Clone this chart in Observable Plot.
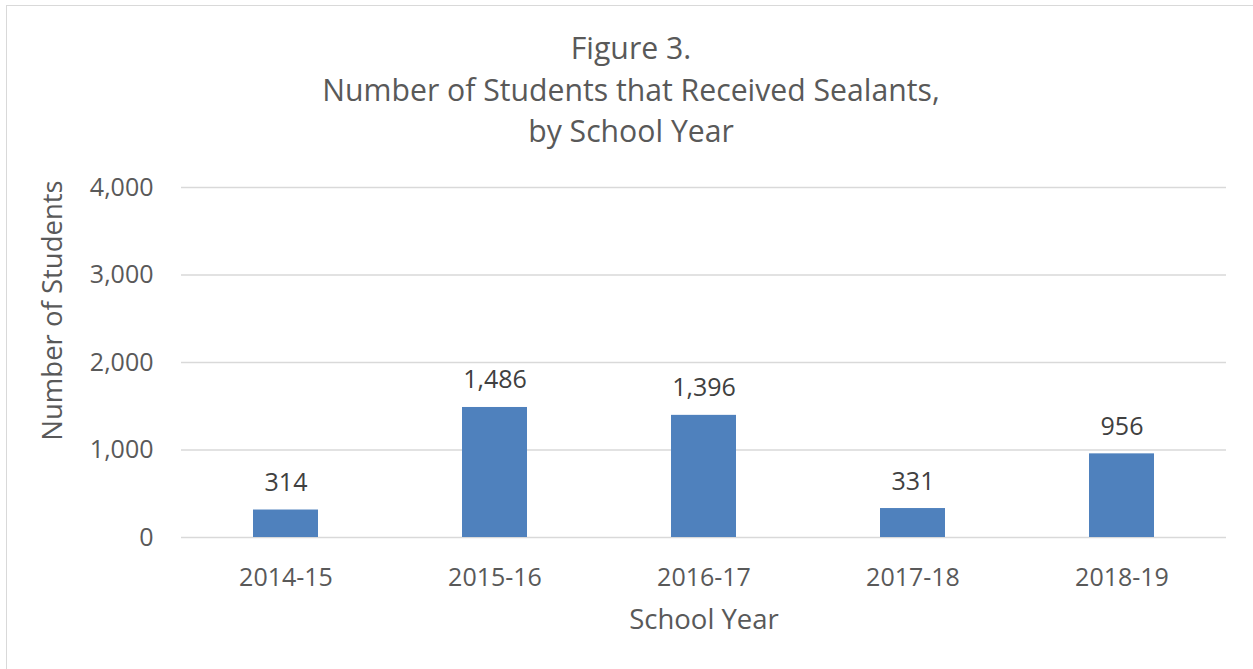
<!DOCTYPE html>
<html><head><meta charset="utf-8">
<script src="https://cdn.jsdelivr.net/npm/d3@7"></script>
<script src="https://cdn.jsdelivr.net/npm/@observablehq/plot@0.6"></script>
<style>
html,body{margin:0;padding:0;background:#fff;overflow:hidden;width:1253px;height:669px;position:relative}
#frame{position:absolute;left:6px;top:5px;width:1300px;height:700px;border:1.5px solid #d9d9d9;box-sizing:border-box}
#title{position:absolute;left:0;top:27px;width:1262px;text-align:center;font-family:"Open Sans";font-size:30.2px;line-height:41.5px;color:#595959}
#chart{position:absolute;left:0;top:152px}
</style></head><body>
<div id="frame"></div>
<div id="title">Figure 3.<br>Number of Students that Received Sealants,<br>by School Year</div>
<div id="chart"></div>
<script>
const years = ["2014-15", "2015-16", "2016-17", "2017-18", "2018-19"];
const students = [314, 1486, 1396, 331, 956];
const yTicks = [0, 1000, 2000, 3000, 4000];
const xTitle = "School Year";
const yTitle = "Number of Students";
const data = years.map((y, i) => ({year: y, n: students[i]}));
const fmt = d3.format(",");
const chart = Plot.plot({
  width: 1253, height: 517,
  marginTop: 35, marginBottom: 132, marginLeft: 181, marginRight: 27,
  style: {fontFamily: '"Open Sans"', fontSize: "25px", color: "#595959", background: "transparent", overflow: "visible"},
  x: {domain: years, paddingInner: 0.689, paddingOuter: 0.3445, label: null},
  y: {domain: [0, 4000], ticks: yTicks, label: null},
  marks: [
    Plot.ruleY(yTicks, {stroke: "#d9d9d9", strokeWidth: 1.5}),
    Plot.barY(data, {x: "year", y: "n", fill: "#4F81BD"}),
    Plot.text(data, {x: "year", y: "n", text: d => fmt(d.n), lineAnchor: "bottom", dy: -19, fill: "#404040"}),
    Plot.axisX({tickSize: 0, tickPadding: 31, label: null}),
    Plot.axisY({ticks: yTicks, tickFormat: d => fmt(d), tickSize: 0, tickPadding: 28, label: null}),
    Plot.text([xTitle], {frameAnchor: "bottom", lineAnchor: "middle", textAnchor: "middle", dy: 83, fontSize: 27.5}),
    Plot.text([yTitle], {frameAnchor: "left", textAnchor: "middle", lineAnchor: "middle", rotate: -90, dx: -128, dy: -52, fontSize: 27.5})
  ]
});
document.getElementById("chart").appendChild(chart);
</script>
</body></html>
